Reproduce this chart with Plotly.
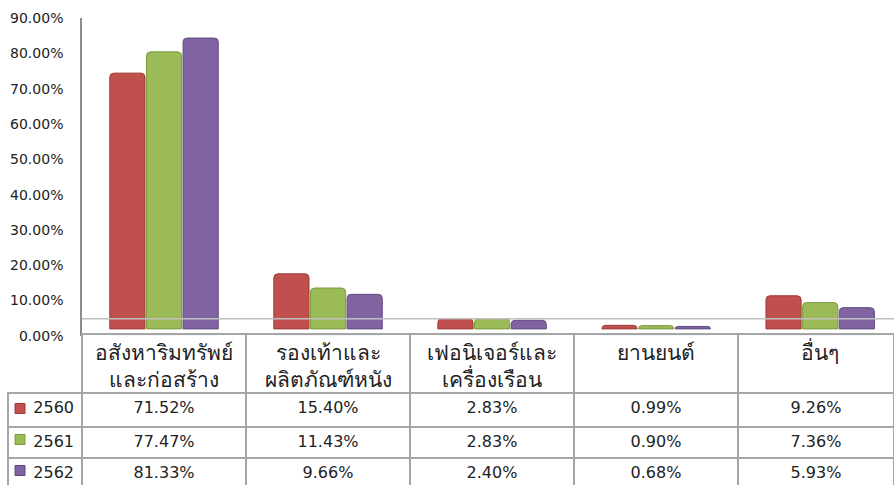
import plotly.graph_objects as go

# categories and yearly shares (percent)
categories = ['อสังหาริมทรัพย์<br>และก่อสร้าง', 'รองเท้าและ<br>ผลิตภัณฑ์หนัง',
              'เฟอนิเจอร์และ<br>เครื่องเรือน', 'ยานยนต์', 'อื่นๆ']
years = ['2560', '2561', '2562']
v2560 = [71.52, 15.40, 2.83, 0.99, 9.26]
v2561 = [77.47, 11.43, 2.83, 0.90, 7.36]
v2562 = [81.33, 9.66, 2.40, 0.68, 5.93]
y_ticks = [0, 10, 20, 30, 40, 50, 60, 70, 80, 90]

colors = ['#c0504d', '#9bbb59', '#8064a2']
edges = ['#9c3a37', '#7a9a3c', '#5f4a80']
FONT = 'DejaVu Sans, Noto Sans, sans-serif'
GRID = '#a6a6a6'

W, H = 894, 494
# the captured page comes out a little taller than the figure, so vertical
# positions are measured in picture pixels and mapped back here
SY, OY = 0.965, 8


def fx(x):
    return x / W


def fy(y):
    return min(1, max(0, 1 - (y - OY) / SY / H))


fig = go.Figure()

# invisible trace on the labelled scale
fig.add_trace(go.Bar(x=categories, y=[0] * 5, showlegend=False, hoverinfo='skip',
                     yaxis='y'))

for yr, vals, c, e in zip(years, [v2560, v2561, v2562], colors, edges):
    fig.add_trace(go.Bar(x=categories, y=vals, name=yr, yaxis='y2',
                         marker=dict(color=c, line=dict(color=e, width=1),
                                     cornerradius=4),
                         showlegend=False))

last_w = 156

# category header row (borders only, names come from the x axis)
fig.add_trace(go.Table(
    domain=dict(x=[fx(82), 1], y=[fy(392), fy(333)]),
    columnwidth=[164, 164, 164, 164, last_w],
    header=dict(values=[''] * 5, height=61, fill_color='rgba(0,0,0,0)',
                line=dict(color=GRID, width=2)),
    cells=dict(values=[[] for _ in categories], height=1,
               fill_color='rgba(0,0,0,0)'),
))

rows = [[y] + ['%.2f%%' % v for v in vals]
        for y, vals in zip(years, [v2560, v2561, v2562])]
cell_font = dict(family=FONT, size=16, color='#222')
aligns = ['right'] + ['center'] * 5
fig.add_trace(go.Table(
    domain=dict(x=[fx(8), 1], y=[0, fy(392)]),
    columnwidth=[74, 164, 164, 164, 164, last_w],
    header=dict(values=rows[0], height=34, align=aligns,
                fill_color='rgba(0,0,0,0)',
                line=dict(color=GRID, width=2), font=cell_font),
    cells=dict(values=[[rows[1][j], rows[2][j]] for j in range(6)], height=31,
               align=aligns, fill_color='rgba(0,0,0,0)',
               line=dict(color=GRID, width=2), font=cell_font),
))

# legend keys in the first table column
fig.add_trace(go.Scatter(x=[0, 0, 0], y=years, mode='markers', xaxis='x2',
                         yaxis='y3', showlegend=False, hoverinfo='skip',
                         marker=dict(symbol='square', size=10, color=colors,
                                     line=dict(color=edges, width=1))))

# back edge of the 3D floor
fig.add_shape(type='line', xref='paper', yref='paper', x0=fx(82), x1=1,
              y0=fy(318), y1=fy(318), line=dict(color='#bfbfbf', width=1.5))

fig.update_layout(
    width=W, height=H,
    margin=dict(l=0, r=0, t=0, b=0),
    paper_bgcolor='white', plot_bgcolor='rgba(0,0,0,0)',
    barmode='group', bargap=0.33, bargroupgap=0.04,
    font=dict(family=FONT, color='#222'),
    xaxis=dict(domain=[fx(82), 1], range=[-0.5, 4.45], showgrid=False,
               zeroline=False, anchor='y', ticks='', ticklabelstandoff=2,
               tickfont=dict(family=FONT, size=21, color='#222')),
    yaxis=dict(domain=[fy(335), fy(18)], range=[0, 90], tickvals=y_ticks,
               ticktext=['%.2f%%' % v for v in y_ticks], showgrid=False,
               zeroline=False, showline=True, linecolor='#8c8c8c', linewidth=1.5,
               tickfont=dict(size=14, color='#222'), ticks='',
               ticklabelstandoff=14, anchor='x'),
    yaxis2=dict(domain=[fy(335), fy(18)], range=[-1.96, 86.93],
                overlaying='y', visible=False, anchor='x'),
    xaxis2=dict(domain=[fx(12), fx(28)], range=[-1, 1], visible=False,
                anchor='y3'),
    yaxis3=dict(domain=[0, fy(392)], range=[2.5, -0.5], type='category',
                visible=False, anchor='x2'),
)

# the page body would otherwise add its default 8px margin around the plot
fig.write_html("out.html", config={'displayModeBar': False},
               post_script="document.body.style.margin = '0';")
